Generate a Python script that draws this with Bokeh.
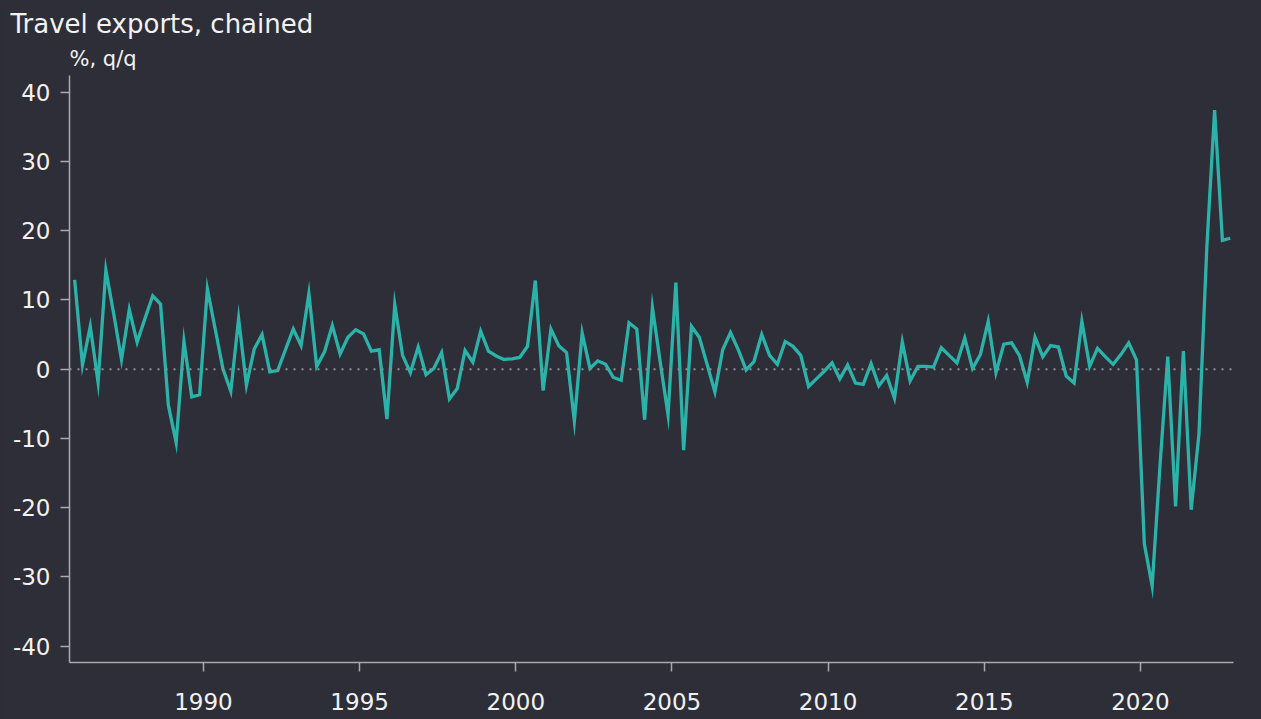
from bokeh.plotting import figure
from bokeh.models import Span, Title, FixedTicker
from bokeh.embed import file_html
from bokeh.resources import INLINE

# ---- data ----
title_text = "Travel exports, chained"
unit_text = "%, q/q"
start_year, start_q = 1985, 4
values = [
    12.9, 0.6, 6.2, -1.9, 14.3, 8.0, 1.4, 8.6, 3.9, 7.3,
    10.6, 9.4, -5.2, -10.6, 4.0, -4.0, -3.7, 11.6, 5.8, 0.0,
    -3.2, 7.3, -2.3, 2.9, 5.0, -0.4, -0.2, 2.8, 5.8, 3.4,
    10.9, 0.4, 2.5, 6.3, 2.2, 4.6, 5.7, 5.1, 2.6, 2.8,
    -7.2, 9.3, 2.0, -0.5, 3.2, -0.8, 0.1, 2.4, -4.3, -2.8,
    2.7, 1.0, 5.5, 2.6, 1.9, 1.4, 1.5, 1.7, 3.3, 12.8,
    -3.1, 5.8, 3.4, 2.4, -7.5, 5.2, 0.1, 1.2, 0.7, -1.2,
    -1.6, 6.7, 5.8, -7.3, 8.9, 1.0, -6.6, 12.5, -11.7, 6.2,
    4.6, 0.7, -3.3, 2.8, 5.3, 2.8, -0.1, 1.1, 5.0, 2.0,
    0.7, 4.0, 3.3, 2.0, -2.5, -1.4, -0.3, 0.9, -1.4, 0.6,
    -2.0, -2.2, 0.8, -2.4, -0.9, -4.2, 3.9, -1.7, 0.4, 0.4,
    0.3, 3.1, 2.0, 0.9, 4.5, 0.1, 2.1, 6.9, -0.5, 3.6,
    3.8, 2.0, -1.9, 4.6, 1.8, 3.4, 3.2, -1.0, -2.0, 6.9,
    0.4, 3.0, 1.8, 0.7, 2.1, 3.8, 1.3, -25.2, -31.3, -14.0,
    1.8, -19.8, 2.6, -20.3, -9.3, 17.5, 37.4, 18.6, 18.9,
]
x_ticks = [1990, 1995, 2000, 2005, 2010, 2015, 2020]
x_tick_labels = ["1990", "1995", "2000", "2005", "2010", "2015", "2020"]
y_ticks = [-40, -30, -20, -10, 0, 10, 20, 30, 40]
y_tick_labels = ["-40", "-30", "-20", "-10", "0", "10", "20", "30", "40"]

# quarter mid-points
xs = []
y_, q_ = start_year, start_q
for _ in values:
    xs.append(y_ + (q_ - 1) / 4 + 0.125)
    q_ += 1
    if q_ > 4:
        q_ = 1
        y_ += 1

BG = "#2e2e38"
TEAL = "#2bb3aa"
AXIS = "#a9a9ae"
TXT = "#f2f2f2"
FONT = "DejaVu Sans"

p = figure(width=1261, height=719, output_backend="svg", toolbar_location=None,
           title=None,
           x_range=(1985.71, 2022.98), y_range=(-42.35, 42.4),
           background_fill_color=BG, border_fill_color=BG, outline_line_color=None,
           min_border_left=69, min_border_right=28, min_border_top=75, min_border_bottom=57)
p.grid.visible = False

p.add_layout(Span(location=0, dimension="width", line_color="#8e8e96",
                  line_width=2, line_dash="2 6"))
p.line(xs, values, line_color=TEAL, line_width=3.3, line_join="miter")

for ax in (p.xaxis[0], p.yaxis[0]):
    ax.axis_line_color = AXIS
    ax.axis_line_width = 1.5
    ax.major_tick_line_color = AXIS
    ax.major_tick_line_width = 1.5
    ax.major_tick_in = 0
    ax.major_tick_out = 9
    ax.minor_tick_line_color = None
    ax.major_label_text_color = TXT
    ax.major_label_text_font = FONT
    ax.major_label_text_font_size = "23px"

p.xaxis.ticker = FixedTicker(ticks=x_ticks)
p.xaxis.major_label_overrides = dict(zip(x_ticks, x_tick_labels))
p.xaxis.major_label_standoff = 21
p.yaxis.ticker = FixedTicker(ticks=y_ticks)
p.yaxis.major_label_overrides = dict(zip(y_ticks, y_tick_labels))
p.yaxis.major_label_standoff = 10

unit_title = Title(text=unit_text, align="left", offset=0, standoff=10,
                   text_font=FONT, text_font_size="21px", text_color=TXT,
                   text_font_style="normal")
main_title = Title(text=title_text, align="left", offset=-59, standoff=2,
                   text_font=FONT, text_font_size="26px", text_color=TXT,
                   text_font_style="normal")
p.add_layout(unit_title, "above")
p.add_layout(main_title, "above")

html = file_html(p, INLINE)
html = html.replace("<head>", "<head><style>html,body{background:%s;margin:0;}</style>" % BG, 1)
open("out.html", "w").write(html)
